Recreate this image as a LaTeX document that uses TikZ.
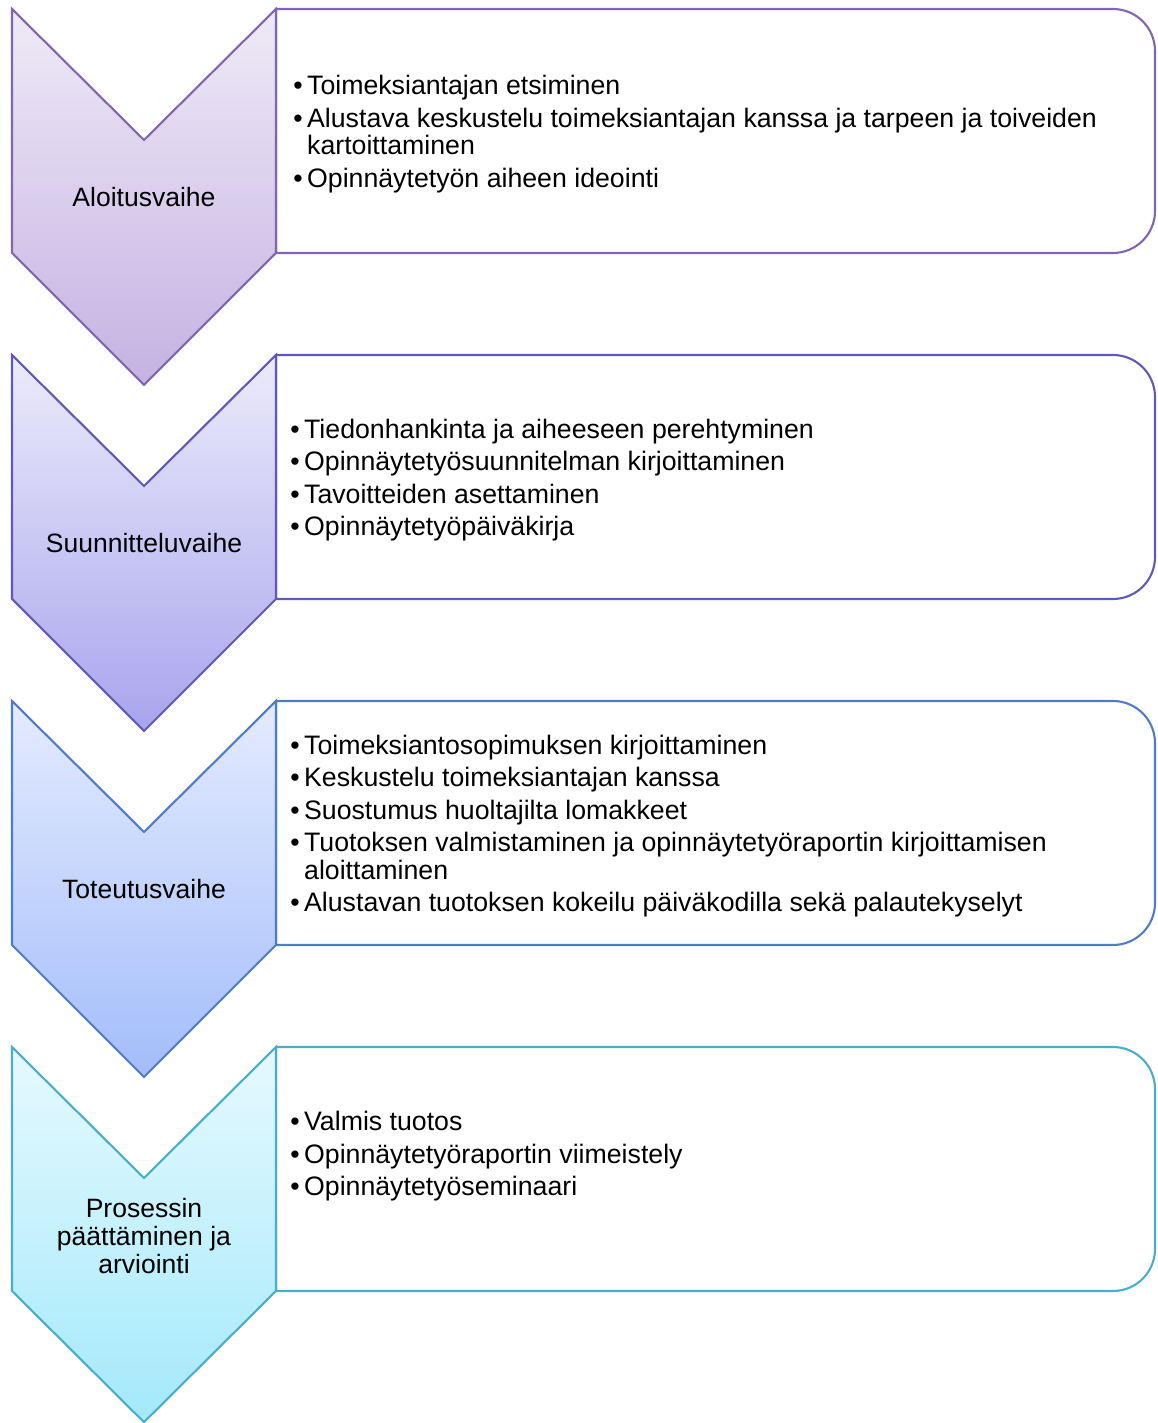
\documentclass[tikz,border=0pt]{standalone}
\usepackage{fontspec}
\setmainfont{Liberation Sans}
\usepackage{tikz}
\usetikzlibrary{positioning}

\definecolor{violetline}{HTML}{8066AE}
\definecolor{violettop}{HTML}{EFEAF6}
\definecolor{violetbot}{HTML}{C4B2E3}
\definecolor{lilacline}{HTML}{5E5AB6}
\definecolor{lilactop}{HTML}{ECEBFA}
\definecolor{lilacbot}{HTML}{A8A4EE}
\definecolor{blueline}{HTML}{4F7CC4}
\definecolor{bluetop}{HTML}{E4EBFD}
\definecolor{bluebot}{HTML}{A3BDFB}
\definecolor{cyanline}{HTML}{4BAEC8}
\definecolor{cyantop}{HTML}{E6F9FE}
\definecolor{cyanbot}{HTML}{A3E9FB}

\tikzset{
  phase/.style={font=\fontsize{15.1}{15.9}\selectfont, align=center},
  tasks/.style={font=\fontsize{15.2}{15.4}\selectfont, anchor=west, inner sep=0pt},
  boxline/.style={line width=1.2pt, fill=white},
  chevline/.style={line width=1.2pt, line join=miter}
}

\newcommand{\bul}{\textbullet\,}

\begin{document}
\begin{tikzpicture}[x=0.02cm, y=0.02cm]

    \useasboundingbox (0,0) rectangle (1157,1423);

    % Aloitusvaihe
    \draw [boxline, draw=violetline] (276,1414) -- (1113,1414)
        arc[start angle=90, end angle=0, radius=42] -- (1155,1212)
        arc[start angle=0, end angle=-90, radius=42] -- (276,1170) -- cycle;
    \shadedraw [chevline, draw=violetline, top color=violettop, bottom color=violetbot]
        (12,1414) -- (144,1283) -- (276,1414) -- (276,1170) -- (144,1038) -- (12,1170) -- cycle;
    \node [phase] (aloitus) at (144,1226) {Aloitusvaihe};
    \node [tasks] (aloitustasks) at (293,1287.5) {%
      \begin{tabular}{@{}l@{}l@{}}
        \bul & Toimeksiantajan etsiminen \\[2.8pt]
        \bul & Alustava keskustelu toimeksiantajan kanssa ja tarpeen ja toiveiden \\
             & kartoittaminen \\[2.8pt]
        \bul & Opinnäytetyön aiheen ideointi
      \end{tabular}};

    % Suunnitteluvaihe
    \draw [boxline, draw=lilacline] (276,1068) -- (1113,1068)
        arc[start angle=90, end angle=0, radius=42] -- (1155,866)
        arc[start angle=0, end angle=-90, radius=42] -- (276,824) -- cycle;
    \shadedraw [chevline, draw=lilacline, top color=lilactop, bottom color=lilacbot]
        (12,1068) -- (144,937) -- (276,1068) -- (276,824) -- (144,692) -- (12,824) -- cycle;
    \node [phase] (suunnittelu) at (144,880) {Suunnitteluvaihe};
    \node [tasks] (suunnittelutasks) at (290,941.5) {%
      \begin{tabular}{@{}l@{}l@{}}
        \bul & Tiedonhankinta ja aiheeseen perehtyminen \\[2.8pt]
        \bul & Opinnäytetyösuunnitelman kirjoittaminen \\[2.8pt]
        \bul & Tavoitteiden asettaminen \\[2.8pt]
        \bul & Opinnäytetyöpäiväkirja
      \end{tabular}};

    % Toteutusvaihe
    \draw [boxline, draw=blueline] (276,722) -- (1113,722)
        arc[start angle=90, end angle=0, radius=42] -- (1155,520)
        arc[start angle=0, end angle=-90, radius=42] -- (276,478) -- cycle;
    \shadedraw [chevline, draw=blueline, top color=bluetop, bottom color=bluebot]
        (12,722) -- (144,591) -- (276,722) -- (276,478) -- (144,346) -- (12,478) -- cycle;
    \node [phase] (toteutus) at (144,534) {Toteutusvaihe};
    \node [tasks] (toteutustasks) at (290,595.5) {%
      \begin{tabular}{@{}l@{}l@{}}
        \bul & Toimeksiantosopimuksen kirjoittaminen \\[2.8pt]
        \bul & Keskustelu toimeksiantajan kanssa \\[2.8pt]
        \bul & Suostumus huoltajilta lomakkeet \\[2.8pt]
        \bul & Tuotoksen valmistaminen ja opinnäytetyöraportin kirjoittamisen \\
             & aloittaminen \\[2.8pt]
        \bul & Alustavan tuotoksen kokeilu päiväkodilla sekä palautekyselyt
      \end{tabular}};

    % Prosessin päättäminen
    \draw [boxline, draw=cyanline] (276,376) -- (1113,376)
        arc[start angle=90, end angle=0, radius=42] -- (1155,174)
        arc[start angle=0, end angle=-90, radius=42] -- (276,132) -- cycle;
    \shadedraw [chevline, draw=cyanline, top color=cyantop, bottom color=cyanbot]
        (12,376) -- (144,245) -- (276,376) -- (276,132) -- (144,0.8) -- (12,132) -- cycle;
    \node [phase] (paattaminen) at (144,187) {Prosessin\\päättäminen ja\\arviointi};
    \node [tasks] (paattaminentasks) at (290,265.5) {%
      \begin{tabular}{@{}l@{}l@{}}
        \bul & Valmis tuotos \\[2.8pt]
        \bul & Opinnäytetyöraportin viimeistely \\[2.8pt]
        \bul & Opinnäytetyöseminaari
      \end{tabular}};

\end{tikzpicture}
\end{document}
